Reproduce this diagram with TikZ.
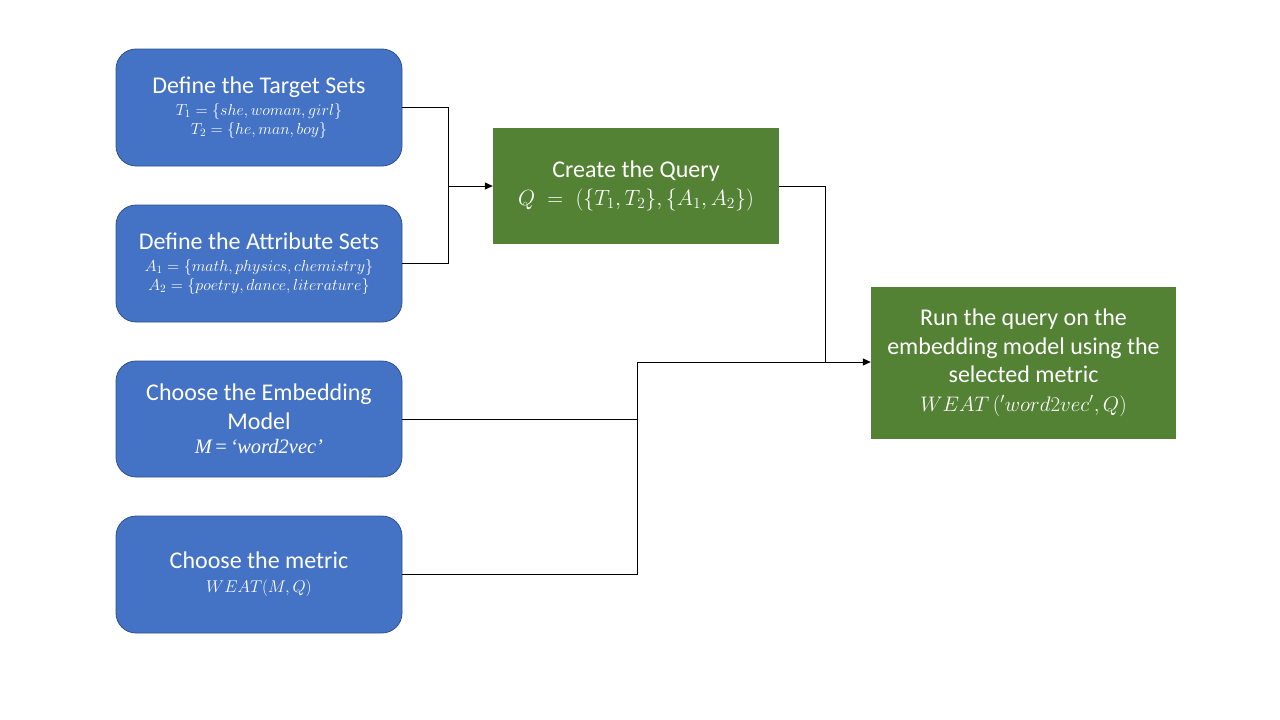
\RequirePackage{fix-cm}
\documentclass[tikz,border=0pt]{standalone}
\usepackage{fontspec}
\setmainfont{Carlito}
\newfontfamily\tnr{Liberation Serif}
\usetikzlibrary{arrows.meta}
\definecolor{boxblue}{HTML}{4472C4}
\definecolor{boxblueedge}{HTML}{2F528F}
\definecolor{boxgreen}{HTML}{548235}
\tikzset{
  bluebox/.style={draw=boxblueedge, line width=0.8pt, fill=boxblue, rounded corners=20pt,
    minimum width=286pt, minimum height=117pt, inner sep=0pt, text=white, align=center},
  greenbox/.style={fill=boxgreen, inner sep=0pt, text=white, align=center},
  conn/.style={draw=black, line width=1pt},
  arr/.style={conn, -{Triangle[length=8pt,width=7pt]}},
}
\begin{document}
\begin{tikzpicture}[x=1pt,y=-1pt]
\useasboundingbox (0,0) rectangle (1280,720);
\node[bluebox, font=\fontsize{16}{19}\selectfont] (tgt) at (259,107.5)
  {{\fontsize{24}{28}\selectfont Define the Target Sets}\\[3pt]
   $T_1=\{she, woman, girl\}$\\
   $T_2=\{he, man, boy\}$};
\node[bluebox, font=\fontsize{16}{19}\selectfont] (att) at (259,263.5)
  {{\fontsize{24}{28}\selectfont Define the Attribute Sets}\\[3pt]
   $A_1=\{math, physics, chemistry\}$\\
   $A_2=\{poetry, dance, literature\}$};
\node[bluebox, minimum height=116pt, font=\fontsize{24}{29}\selectfont] (emb) at (259,419)
  {Choose the Embedding\\Model\\[-5pt]
   {\tnr\fontsize{20.5}{22}\selectfont\itshape M\,{\upshape =}\,‘word2vec’}};
\node[bluebox, font=\fontsize{24}{24}\selectfont] (met) at (259,574.5)
  {Choose the metric\\
   {\fontsize{17}{20}\selectfont $WEAT(M,Q)$}};
\node[greenbox, minimum width=286pt, minimum height=116pt, font=\fontsize{24}{28}\selectfont] (qry) at (636,186)
  {Create the Query\\
   {\fontsize{22}{27}\selectfont $Q\;=\;(\{T_1,T_2\},\{A_1,A_2\})$}};
\node[greenbox, minimum width=305pt, minimum height=152pt, font=\fontsize{24}{28.5}\selectfont] (run) at (1023.5,363)
  {Run the query on the\\
   embedding model using the\\
   selected metric\\
   {\fontsize{21}{24}\selectfont $WEAT\,({}'word2vec',Q)$}};
\coordinate (j1) at (448,186);
\coordinate (j2) at (825,362);
\coordinate (j3) at (637,362);
\draw[conn] (tgt.east) -| (j1);
\draw[conn] (att.east) -| (j1);
\draw[arr] (j1) -- (qry.west);
\draw[conn] (qry.east) -| (j2);
\draw[conn] (emb.east) -| (j3);
\draw[conn] (met.east) -| (j3);
\draw[arr] (j3) -- (run.west |- j3);
\end{tikzpicture}
\end{document}
